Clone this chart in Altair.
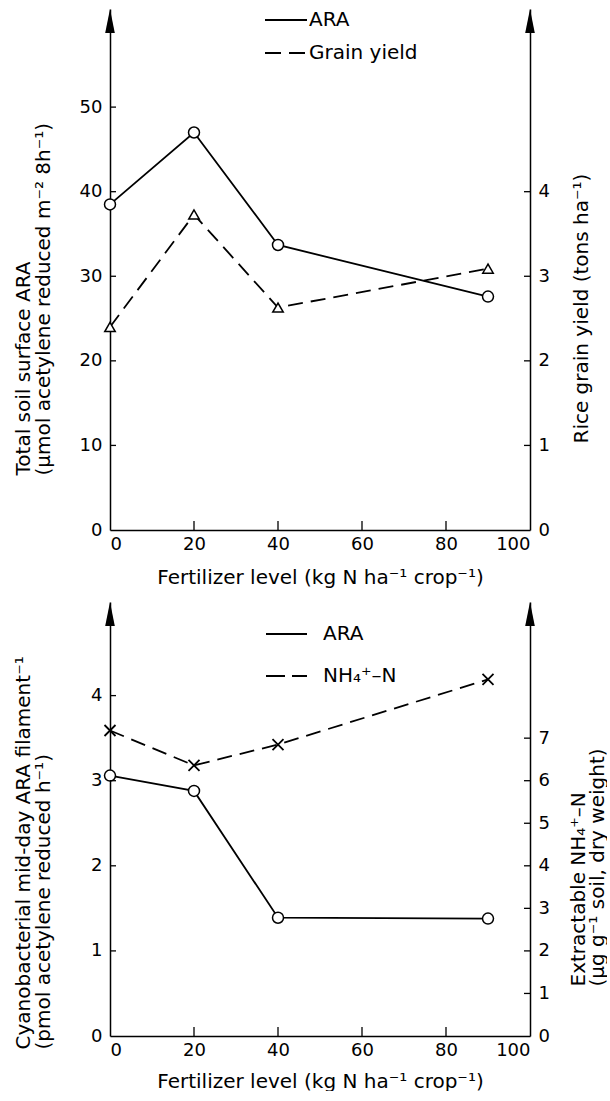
import altair as alt
import pandas as pd

# ---- data ----
fert = [0, 20, 40, 90]
ara_total = [38.5, 47.0, 33.7, 27.6]          # top panel, left axis
grain_yield = [2.40, 3.73, 2.63, 3.09]        # top panel, right axis
ara_filament = [3.06, 2.88, 1.39, 1.38]       # bottom panel, left axis
nh4 = [7.18, 6.36, 6.85, 8.38]                # bottom panel, right axis

x_ticks = [0, 20, 40, 60, 80, 100]
top_left_ticks = [0, 10, 20, 30, 40, 50]
top_right_ticks = [0, 1, 2, 3, 4]
bot_left_ticks = [0, 1, 2, 3, 4]
bot_right_ticks = [0, 1, 2, 3, 4, 5, 6, 7]

top_legend = ["ARA", "Grain yield"]
bot_legend = ["ARA", "NH₄⁺–N"]

x_title = "Fertilizer level (kg N ha⁻¹ crop⁻¹)"
top_left_title = ["Total soil surface ARA", "(μmol acetylene reduced m⁻² 8h⁻¹)"]
top_right_title = "Rice grain yield (tons ha⁻¹)"
bot_left_title = ["Cyanobacterial mid-day ARA filament⁻¹", "(pmol acetylene reduced h⁻¹)"]
bot_right_title = ["Extractable NH₄⁺–N", "(μg g⁻¹ soil, dry weight)"]

FONT = "DejaVu Sans"
W = 420
H1 = 521
H2 = 434
LW = 1.8
DASH = [15, 8]
ARROW = "M0,-1L-0.4,1L0.4,1Z"
XMARK = "M-1,-1L1,1M-1,1L1,-1"

x_scale = alt.Scale(domain=[0, 100], nice=False, zero=True)


def x_enc(field, tpad):
    ax = alt.Axis(values=x_ticks, title=x_title, format="d", labelPadding=5,
                  titlePadding=tpad)
    return alt.X(f"{field}:Q", scale=x_scale, axis=ax)


def y_axis(orient, values, title, tx, ty, lh=20):
    return alt.Axis(orient=orient, values=values, title=title, titleAngle=270,
                    titleAlign="left", titleBaseline="middle", titleX=tx, titleY=ty,
                    titleLineHeight=lh, labelPadding=8, format="d")


def y_enc(field, domain, axis):
    return alt.Y(f"{field}:Q", scale=alt.Scale(domain=domain, nice=False, zero=True), axis=axis)


def side(df, field, domain, axis, dash, shape, shape_size, filled_white, tick_vals, orient, tpad):
    line_kwargs = dict(color="black", strokeWidth=LW)
    if dash:
        line_kwargs["strokeDash"] = dash
    line = alt.Chart(df).mark_line(**line_kwargs).encode(
        x=x_enc("fert", tpad), y=y_enc(field, domain, axis))
    if filled_white:
        pts = alt.Chart(df).mark_point(shape=shape, size=shape_size, filled=True, fill="white",
                                       stroke="black", strokeWidth=1.5, opacity=1).encode(
            x=x_enc("fert", tpad), y=y_enc(field, domain, axis))
    else:
        pts = alt.Chart(df).mark_point(shape=shape, size=shape_size, filled=False,
                                       color="black", strokeWidth=1.8, opacity=1).encode(
            x=x_enc("fert", tpad), y=y_enc(field, domain, axis))
    tdf = pd.DataFrame({"v": [v for v in tick_vals if v != 0]})
    if orient == "left":
        xa, xb = 0, 6
    else:
        xa, xb = W - 6, W
    ticks = alt.Chart(tdf).mark_rule(color="black", strokeWidth=1.3).encode(
        y=y_enc("v", domain, axis), x=alt.value(xa), x2=alt.value(xb))
    return alt.layer(line, pts, ticks)


def extras(H, legend_labels, legend_dashes, legend_ys, lx0, lx1, ltx, tpad):
    arrows = alt.Chart(pd.DataFrame({"xa": [0, 100]})).mark_point(
        shape=ARROW, size=576, filled=True, color="black", opacity=1, strokeWidth=0).encode(
        x=x_enc("xa", tpad), y=alt.value(12))
    xt = alt.Chart(pd.DataFrame({"xt": [v for v in x_ticks if v not in (0, 100)]})).mark_rule(
        color="black", strokeWidth=1.3).encode(
        x=x_enc("xt", tpad), y=alt.value(H), y2=alt.value(H - 9))
    layers = [arrows, xt]
    for lab, dash, yy in zip(legend_labels, legend_dashes, legend_ys):
        d = pd.DataFrame({"label": [lab]})
        kw = dict(color="black", strokeWidth=LW)
        if dash:
            kw["strokeDash"] = dash
        layers.append(alt.Chart(d).mark_rule(**kw).encode(
            x=alt.value(lx0), x2=alt.value(lx1), y=alt.value(yy)))
        layers.append(alt.Chart(d).mark_text(align="left", baseline="middle", font=FONT,
                                             fontSize=20, color="black").encode(
            x=alt.value(ltx), y=alt.value(yy), text="label:N"))
    return layers


# ---- top panel ----
df_top = pd.DataFrame({"fert": fert, "ara": ara_total, "grain": grain_yield})
top_left = side(df_top, "ara", [0, 61.6],
                y_axis("left", top_left_ticks, top_left_title, -87, 466),
                None, "circle", 121, True, top_left_ticks, "left", 14)
top_right = side(df_top, "grain", [0, 6.16],
                 y_axis("right", top_right_ticks, top_right_title, 51, 434),
                 DASH, "triangle-up", 110, True, top_right_ticks, "right", 14)
top = alt.layer(top_left, top_right,
                *extras(H1, top_legend, [None, [16, 8]], [11, 44], 155, 197, 199, 14)
                ).resolve_scale(y="independent").properties(width=W, height=H1)

# ---- bottom panel ----
df_bot = pd.DataFrame({"fert": fert, "ara": ara_filament, "nh4": nh4})
bot_left = side(df_bot, "ara", [0, 5.1],
                y_axis("left", bot_left_ticks, bot_left_title, -87, 447),
                None, "circle", 121, True, bot_left_ticks, "left", 12)
bot_right = side(df_bot, "nh4", [0, 10.2],
                 y_axis("right", bot_right_ticks, bot_right_title, 48, 384, lh=19),
                 DASH, XMARK, 121, False, bot_right_ticks, "right", 12)
bottom = alt.layer(bot_left, bot_right,
                   *extras(H2, bot_legend, [None, [19, 7]], [32, 74], 156, 197, 213, 12)
                   ).resolve_scale(y="independent").properties(width=W, height=H2)

chart = alt.vconcat(top, bottom, spacing=15).properties(
    padding={"left": 12, "top": 9, "right": 0, "bottom": 0},
    background="white",
).configure_view(stroke=None).configure_axis(
    grid=False, ticks=False, domain=True, domainColor="black", domainWidth=1.5,
    labelFont=FONT, labelFontSize=18, labelColor="black",
    titleFont=FONT, titleFontSize=20, titleFontWeight="normal", titleColor="black",
)

chart.save("out.html", embed_options={"renderer": "svg", "actions": False})
